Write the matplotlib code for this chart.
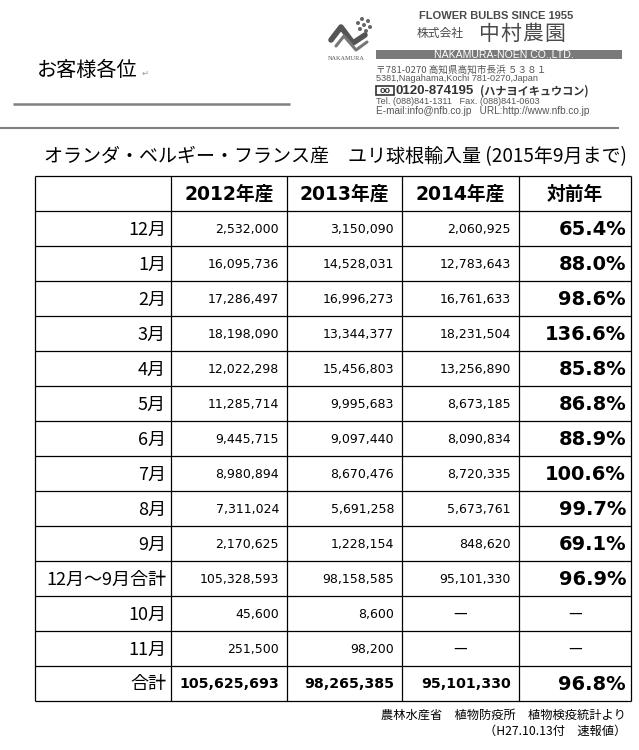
import matplotlib
matplotlib.use("Agg")
import matplotlib.pyplot as plt
from matplotlib.patches import Rectangle, Circle

# ---------------- data ----------------
row_labels = ['12月', '1月', '2月', '3月', '4月', '5月', '6月', '7月', '8月', '9月',
              '12月～9月合計', '10月', '11月', '合計']
col_headers = ['2012年産', '2013年産', '2014年産', '対前年']
y2012 = [2532000, 16095736, 17286497, 18198090, 12022298, 11285714, 9445715,
         8980894, 7311024, 2170625, 105328593, 45600, 251500, 105625693]
y2013 = [3150090, 14528031, 16996273, 13344377, 15456803, 9995683, 9097440,
         8670476, 5691258, 1228154, 98158585, 8600, 98200, 98265385]
y2014 = [2060925, 12783643, 16761633, 18231504, 13256890, 8673185, 8090834,
         8720335, 5673761, 848620, 95101330, None, None, 95101330]
yoy_pct = [65.4, 88.0, 98.6, 136.6, 85.8, 86.8, 88.9, 100.6, 99.7, 69.1, 96.9,
           None, None, 96.8]

title = 'オランダ・ベルギー・フランス産　ユリ球根輸入量 (2015年9月まで)'
footer1 = '農林水産省　植物防疫所　植物検疫統計より'
footer2 = '（H27.10.13付　速報値）'

CJK = ['Noto Sans CJK JP', 'DejaVu Sans']
LAT = ['DejaVu Sans', 'Noto Sans CJK JP']
ARL = ['Liberation Sans', 'Noto Sans CJK JP']

fig = plt.figure(figsize=(6.39, 7.5), dpi=100)
ax = fig.add_axes([0, 0, 1, 1])
ax.set_xlim(0, 639)
ax.set_ylim(750, 0)
ax.axis('off')

# ---------------- letterhead ----------------
ax.text(37, 70, 'お客様各位', family=CJK, fontsize=14.5, va='center', ha='left', color='black')
ax.text(142, 73, '↵', family=['DejaVu Sans'], fontsize=6, va='center', ha='left', color='#999999')
ax.plot([13, 290], [104, 104], color='#808080', lw=1.8, solid_capstyle='butt')

grey = '#4a4a4a'
ax.text(496, 16, 'FLOWER BULBS SINCE 1955', family=ARL, fontsize=8, fontweight='bold',
        color=grey, ha='center', va='center')
ax.text(417, 34, '株式会社', family=CJK, fontsize=8.5, color=grey, ha='left', va='center')
for i, ch in enumerate('中村農園'):
    ax.text(489 + i * 22, 34, ch, family=CJK, fontsize=15, color=grey, ha='center', va='center')
ax.add_patch(Rectangle((376, 50), 246, 9, facecolor='#7a7a7a', edgecolor='none'))
ax.text(504, 54.8, 'NAKAMURA-NOEN CO.,LTD.', family=ARL, fontsize=7.6, color='white',
        ha='center', va='center')
ax.text(376, 69.5, '〒781-0270 高知県高知市長浜 ５３８１', family=CJK, fontsize=6.9, color='#555555',
        ha='left', va='center')
ax.text(376, 78.5, '5381,Nagahama,Kochi 781-0270,Japan', family=ARL, fontsize=6.6,
        color='#555555', ha='left', va='center')
ax.add_patch(Rectangle((376, 86), 18, 9, facecolor='none', edgecolor='#333333', lw=1.2))
ax.text(385, 90.5, 'oo', family=ARL, fontsize=6.5, fontweight='bold', color='#333333',
        ha='center', va='center')
ax.text(396, 91, '0120-874195', family=ARL, fontsize=9.5, fontweight='bold', color='#333333',
        ha='left', va='center')
ax.text(480, 91, '(ハナヨイキュウコン)', family=CJK, fontsize=8, fontweight='bold',
        color='#333333', ha='left', va='center')
ax.text(376, 102, 'Tel. (088)841-1311   Fax. (088)841-0603', family=ARL, fontsize=6.6,
        color='#555555', ha='left', va='center')
ax.text(376, 111.5, 'E-mail:info@nfb.co.jp   URL:http://www.nfb.co.jp', family=ARL,
        fontsize=7.2, color='#555555', ha='left', va='center')
ax.plot([0, 619], [128, 128], color='#808080', lw=1.5, solid_capstyle='butt')

# logo mark
ax.plot([331, 341, 353, 365], [40, 27, 43, 35], color='#555555', lw=4,
        solid_capstyle='round', solid_joinstyle='round')
ax.plot([336, 344, 356, 367], [46, 36, 50, 42], color='#777777', lw=2.2,
        solid_capstyle='round', solid_joinstyle='round')
for cx, cy in [(362, 19), (368, 21), (358, 23), (364, 25), (370, 27), (360, 29), (366, 31)]:
    ax.add_patch(Circle((cx, cy), 2.0, facecolor='#666666', edgecolor='none'))
ax.text(346, 59, 'NAKAMURA', family=['Liberation Serif'], fontsize=4.5, color='#555555',
        ha='center', va='center')

# ---------------- title ----------------
ax.text(335, 157, title, family=CJK, fontsize=13.7, color='black', ha='center', va='center')

# ---------------- table ----------------
col_edges = [35, 171, 287, 402, 519, 631]
top = 176
row_h = 35
n_rows = len(row_labels) + 1
bottom = top + row_h * n_rows
lw = 0.9
for x in col_edges:
    ax.plot([x, x], [top, bottom], color='black', lw=lw, solid_capstyle='butt')
for r in range(n_rows + 1):
    y = top + r * row_h
    ax.plot([col_edges[0], col_edges[-1]], [y, y], color='black', lw=lw, solid_capstyle='butt')

# header
for j, h in enumerate(col_headers):
    cx = (col_edges[j + 1] + col_edges[j + 2]) / 2
    ax.text(cx, top + row_h / 2 + 1, h, family=LAT, fontsize=13.5, fontweight='bold',
            ha='center', va='center')

series = [y2012, y2013, y2014]
for i, lab in enumerate(row_labels):
    yc = top + (i + 1) * row_h + row_h / 2
    is_total = (lab == '合計')
    ax.text(col_edges[1] - 5, yc + 1, lab, family=CJK, fontsize=13, ha='right', va='center')
    for j, s in enumerate(series):
        v = s[i]
        if v is None:
            cx = (col_edges[j + 1] + col_edges[j + 2]) / 2
            ax.text(cx, yc, '—', family=CJK, fontsize=11, ha='center', va='center')
        else:
            ax.text(col_edges[j + 2] - 8, yc + 1, f'{v:,}', family=LAT,
                    fontsize=10.2 if is_total else 9,
                    fontweight='bold' if is_total else 'normal',
                    ha='right', va='center')
    p = yoy_pct[i]
    if p is None:
        cx = (col_edges[4] + col_edges[5]) / 2
        ax.text(cx, yc, '—', family=CJK, fontsize=11, ha='center', va='center')
    else:
        ax.text(col_edges[5] - 5, yc + 1, f'{p:.1f}%', family=LAT, fontsize=14,
                fontweight='bold', ha='right', va='center')

# ---------------- footer ----------------
ax.text(626, 715, footer1, family=CJK, fontsize=8.8, ha='right', va='center')
ax.text(626, 731, footer2, family=CJK, fontsize=8.8, ha='right', va='center')

fig.savefig('out.png', dpi=100)
